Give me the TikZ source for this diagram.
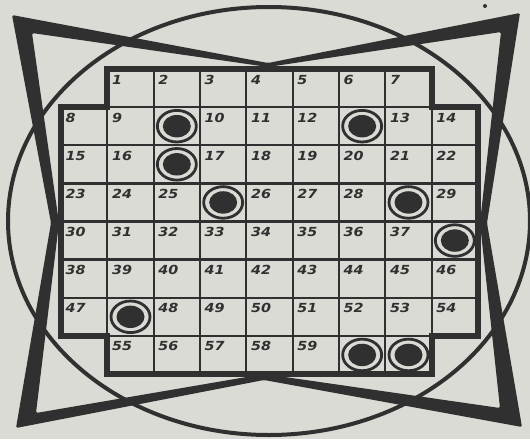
\documentclass[tikz,border=0pt]{standalone}
\usepackage{fontspec}
\newfontfamily\numfont{DejaVu Sans}
\definecolor{paper}{RGB}{219,219,213}
\definecolor{inkc}{RGB}{48,48,48}
\begin{document}
\begin{tikzpicture}[x=1pt,y=-1pt,
  thinline/.style={draw=inkc, line width=2.3pt},
  border/.style={draw=inkc, line width=6pt, line join=miter},
  ringline/.style={draw=inkc, line width=2.8pt},
  num/.style={anchor=base west, inner sep=0pt, text=inkc,
    font=\numfont\bfseries\itshape\fontsize{12.5}{12.5}\selectfont},
  starfill/.style={fill=inkc, even odd rule, rounded corners=1.5pt}]
\fill[paper] (0,0) rectangle (530,439);
\useasboundingbox (0,0) rectangle (530,439);
% big ellipse
\draw[inkc, line width=4pt] (269,221) ellipse [x radius=261, y radius=214];
% four-pointed star
\fill[starfill] (12,15) -- (268,63) -- (520,13) -- (487,223) -- (522,427) -- (264,380) -- (16,428) -- (51,223) -- cycle
  (32,33) -- (268,67) -- (501,32) -- (480,223) -- (500,408) -- (264,374) -- (36,413) -- (59,223) -- cycle;
% grid background
\def\gx#1{(61+46.333*(#1))}
\path[fill=paper] (107.333,69) -- (431.667,69) -- (431.667,107.125) -- (478,107.125) -- (478,335.875)
  -- (431.667,335.875) -- (431.667,374) -- (107.333,374) -- (107.333,335.875) -- (61,335.875)
  -- (61,107.125) -- (107.333,107.125) -- cycle;
% numbered cells
\foreach \r/\c/\t in {0/1/1,0/2/2,0/3/3,0/4/4,0/5/5,0/6/6,0/7/7,
  1/0/8,1/1/9,1/3/10,1/4/11,1/5/12,1/7/13,1/8/14,
  2/0/15,2/1/16,2/3/17,2/4/18,2/5/19,2/6/20,2/7/21,2/8/22,
  3/0/23,3/1/24,3/2/25,3/4/26,3/5/27,3/6/28,3/8/29,
  4/0/30,4/1/31,4/2/32,4/3/33,4/4/34,4/5/35,4/6/36,4/7/37,
  5/0/38,5/1/39,5/2/40,5/3/41,5/4/42,5/5/43,5/6/44,5/7/45,5/8/46,
  6/0/47,6/2/48,6/3/49,6/4/50,6/5/51,6/6/52,6/7/53,6/8/54,
  7/1/55,7/2/56,7/3/57,7/4/58,7/5/59}{
  \draw[thinline] ({61+46.333*\c},{69+38.125*\r}) rectangle ++(46.333,38.125);
}
% cells with counters
\foreach \r/\c in {1/2,1/6,2/2,3/3,3/7,4/8,6/1,7/6,7/7}{
  \draw[thinline] ({61+46.333*\c},{69+38.125*\r}) rectangle ++(46.333,38.125);
}
% outer border
\draw[border] (107.333,69) -- (431.667,69) -- (431.667,107.125) -- (478,107.125) -- (478,335.875)
  -- (431.667,335.875) -- (431.667,374) -- (107.333,374) -- (107.333,335.875) -- (61,335.875)
  -- (61,107.125) -- (107.333,107.125) -- cycle;
% counters
\foreach \r/\c in {1/2,1/6,2/2,3/3,3/7,4/8,6/1,7/6,7/7}{
  \draw[ringline] ({61+46.333*\c+23.17},{69+38.125*\r+19.06}) ellipse [x radius=19.5, y radius=15.8];
  \fill[inkc] ({61+46.333*\c+23.17},{69+38.125*\r+19.06}) ellipse [x radius=14, y radius=11.2];
}
% numbers
\foreach \r/\c/\t in {0/1/1,0/2/2,0/3/3,0/4/4,0/5/5,0/6/6,0/7/7,
  1/0/8,1/1/9,1/3/10,1/4/11,1/5/12,1/7/13,1/8/14,
  2/0/15,2/1/16,2/3/17,2/4/18,2/5/19,2/6/20,2/7/21,2/8/22,
  3/0/23,3/1/24,3/2/25,3/4/26,3/5/27,3/6/28,3/8/29,
  4/0/30,4/1/31,4/2/32,4/3/33,4/4/34,4/5/35,4/6/36,4/7/37,
  5/0/38,5/1/39,5/2/40,5/3/41,5/4/42,5/5/43,5/6/44,5/7/45,5/8/46,
  6/0/47,6/2/48,6/3/49,6/4/50,6/5/51,6/6/52,6/7/53,6/8/54,
  7/1/55,7/2/56,7/3/57,7/4/58,7/5/59}{
  \node[num] (n\t) at ({61+46.333*\c+4.5},{69+38.125*\r+15}) {\scalebox{1.15}[1]{\t}};
}
% ink speck
\fill[inkc] (485,6) circle [radius=2];
\end{tikzpicture}
\end{document}
